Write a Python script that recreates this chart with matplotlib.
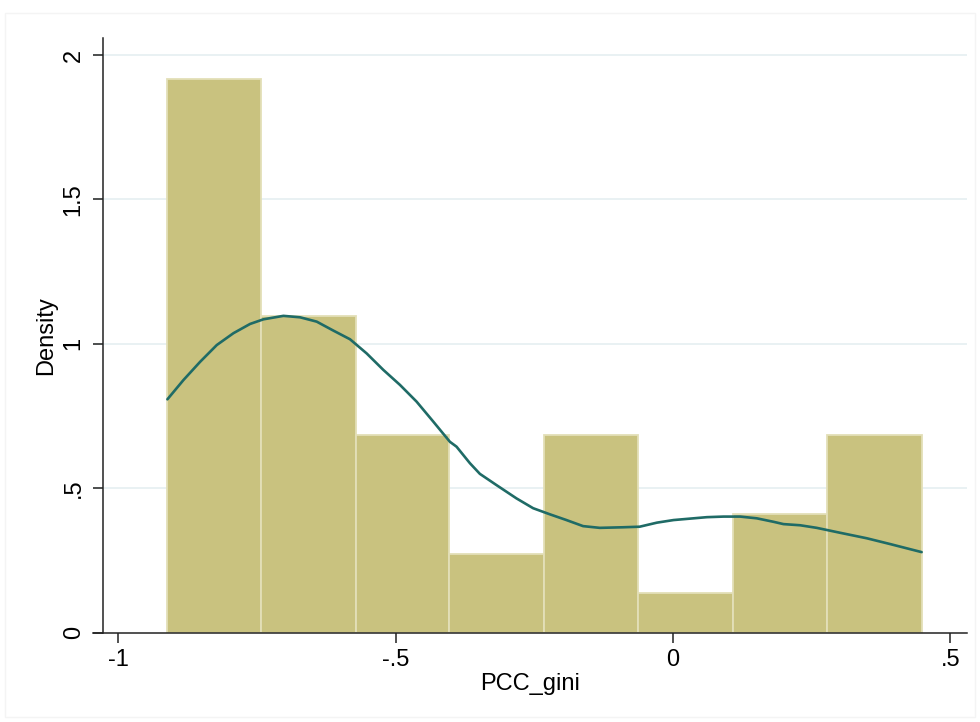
import matplotlib.pyplot as plt
from matplotlib.patches import Rectangle

plt.rcParams["font.family"] = ["Liberation Sans", "DejaVu Sans"]

# histogram of PCC_gini (8 bins, density scale)
BIN_EDGES = [-0.912, -0.742, -0.572, -0.403, -0.233, -0.063, 0.108, 0.278, 0.448]
DENSITY = [1.916, 1.096, 0.685, 0.274, 0.685, 0.137, 0.411, 0.685]

# kernel density estimate
KDE_X = [-0.911, -0.882, -0.852, -0.822, -0.792, -0.762, -0.738, -0.702, -0.672,
         -0.642, -0.612, -0.582, -0.552, -0.522, -0.492, -0.462, -0.432, -0.402,
         -0.390, -0.366, -0.348, -0.318, -0.282, -0.252, -0.222, -0.192, -0.162,
         -0.132, -0.090, -0.060, -0.029, 0.001, 0.031, 0.061, 0.091, 0.121,
         0.151, 0.181, 0.199, 0.229, 0.259, 0.301, 0.349, 0.391, 0.448]
KDE_Y = [0.808, 0.875, 0.938, 0.996, 1.037, 1.069, 1.085, 1.097, 1.092,
         1.077, 1.046, 1.016, 0.967, 0.910, 0.858, 0.800, 0.731, 0.661,
         0.644, 0.587, 0.550, 0.511, 0.465, 0.431, 0.410, 0.390, 0.369,
         0.363, 0.365, 0.367, 0.381, 0.390, 0.395, 0.400, 0.402, 0.402,
         0.396, 0.384, 0.376, 0.372, 0.363, 0.346, 0.327, 0.307, 0.279]

Y_TICKS = [0, 0.5, 1, 1.5, 2]
Y_LABELS = ["0", ".5", "1", "1.5", "2"]
X_TICKS = [-1, -0.5, 0, 0.5]
X_LABELS = ["-1", "-.5", "0", ".5"]

BAR_COLOR = "#c9c27f"
BAR_EDGE = "#e3dfb8"
LINE_COLOR = "#1f6b66"
GRID_COLOR = "#e3eef0"

W, H = 980, 722
fig = plt.figure(figsize=(W / 100, H / 100), dpi=100)

# plot region in pixels
left_px, right_px, top_px, bottom_px = 92.7, 966.7, 38.0, 632.7
ax = fig.add_axes([left_px / W, 1 - bottom_px / H,
                   (right_px - left_px) / W, (bottom_px - top_px) / H])

# faint graph-region frame
fig.patches.append(Rectangle((5 / W, 1 - 717 / H), 970 / W, 704 / H,
                             transform=fig.transFigure, fill=False,
                             edgecolor="#f4f4f4", linewidth=1))

for y in Y_TICKS[1:]:
    ax.axhline(y, color=GRID_COLOR, linewidth=1.1, zorder=0)

widths = [b - a for a, b in zip(BIN_EDGES[:-1], BIN_EDGES[1:])]
ax.bar(BIN_EDGES[:-1], DENSITY, width=widths, align="edge",
       color=BAR_COLOR, edgecolor=BAR_EDGE, linewidth=1.3, zorder=2)
ax.plot(KDE_X, KDE_Y, color=LINE_COLOR, linewidth=1.9, zorder=3,
        solid_joinstyle="round", solid_capstyle="round")

ax.set_xlim(-1.0456, 0.5292)
ax.set_ylim(0, 2.059)

ax.spines["top"].set_visible(False)
ax.spines["right"].set_visible(False)
ax.spines["left"].set_position(("data", -1.0276))
for s in ("left", "bottom"):
    ax.spines[s].set_linewidth(1.1)
    ax.spines[s].set_color("#222222")

ax.set_xticks(X_TICKS)
ax.set_xticklabels(X_LABELS)
ax.set_yticks(Y_TICKS)
ax.set_yticklabels(Y_LABELS, rotation=90, va="center")
ax.tick_params(axis="both", direction="out", length=7, width=1.1,
               color="#222222", labelsize=17)
ax.tick_params(axis="x", pad=5)
ax.tick_params(axis="y", pad=6)

ax.set_xlabel("PCC_gini", fontsize=17, labelpad=1)
ax.set_ylabel("Density", fontsize=17, labelpad=4)

fig.savefig("out.png", dpi=100)
